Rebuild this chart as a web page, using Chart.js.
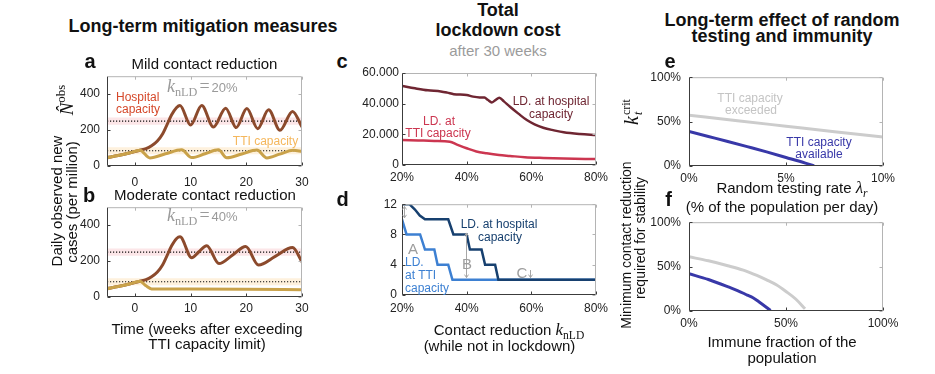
<!DOCTYPE html>
<html>
<head>
<meta charset="utf-8">
<script src="https://cdn.jsdelivr.net/npm/chart.js@4.4.0/dist/chart.umd.min.js"></script>
<style>
  body { margin: 0; background: #fff; }
  #fig { position: relative; width: 935px; height: 374px; overflow: hidden;
         font-family: 'Liberation Sans', Arial, sans-serif; color: #111; }
  #fig canvas { position: absolute; }
  .t { position: absolute; white-space: nowrap; line-height: 1; transform: translate(-50%, -50%); }
  .m { font-family: 'Liberation Serif', 'DejaVu Serif', serif; }
  .m sub { font-size: 0.68em; vertical-align: -0.35em; line-height: 0; }
  .m sup { font-size: 0.68em; vertical-align: 0.55em; line-height: 0; }
</style>
</head>
<body>
<div id="fig"></div>
<script>
// ---- a / b : daily observed new cases per million, weeks after exceeding TTI capacity
const hospitalCapacity = 250;
const ttiCapacity = 85;
const capacityBand = 20;
const timeRange = [-5, 30];
const timeTicks = [0, 10, 20, 30];
const casesTicks = [0, 200, 400];

const mildHospWeeks = [-5, -3, -1, 0.9, 2, 3, 4, 5, 5.7, 6.6, 7.5, 8.1, 10.0, 12.0, 14.1, 16.3, 18.2, 20.1, 22.05, 24.0, 26.05, 28.3, 30];
const mildHospCases = [46, 58, 72, 88, 97, 113, 138, 180, 225, 285, 326, 337, 228, 337, 217, 322, 214, 320, 208, 313, 199, 304, 217];
const mildTtiWeeks = [-5, -3, -1, 0.9, 2.7, 5.5, 8.4, 10.2, 12.6, 15.0, 16.5, 19.2, 21.9, 23.7, 26.0, 28.4, 30];
const mildTtiCases = [46, 58, 72, 88, 45, 68, 90, 47, 68, 90, 46, 67, 89, 45, 66, 88, 80];

const modHospWeeks = [-5, -3, -1, 0.9, 2, 3, 4, 5, 5.7, 6.6, 7.5, 8.1, 10.2, 11.5, 12.9, 15.1, 17.5, 19.9, 22.2, 25.2, 28.3, 30];
const modHospCases = [46, 58, 72, 88, 97, 113, 138, 180, 225, 285, 326, 335, 218, 252, 286, 186, 233, 281, 178, 226, 275, 196];
const modTtiWeeks = [-5, -3, -1, 0.9, 2, 3, 5, 10, 20, 30];
const modTtiCases = [46, 58, 72, 88, 62, 45, 44, 44, 43, 41];

// ---- c / d : lockdown cost vs contact reduction (%)
const reductionTicks = [20, 40, 60, 80];
const totalCasesTicks = [0, 20000, 40000, 60000];
const totalCasesLabels = ['0', '20.000', '40.000', '60.000'];
const durationTicks = [0, 4, 8, 12];

const costHospReduction = [20, 24, 28, 32, 34, 36, 40, 42, 44, 45.5, 46.5, 47.8, 49, 50.1, 51.5, 53.4, 56, 58.6, 61, 63.7, 67, 70, 75, 80];
const costHosp = [51500, 50000, 48700, 48000, 47200, 46200, 45600, 44600, 44100, 44000, 42500, 40800, 42500, 43900, 41500, 38000, 33500, 29300, 26500, 24300, 22600, 21300, 20200, 19600];
const costTtiReduction = [20, 25, 30, 34.8, 37, 40, 43, 46.2, 50, 53.4, 58, 63.7, 70, 80];
const costTti = [16300, 16000, 15700, 15200, 13300, 10900, 8800, 7600, 6500, 5900, 5100, 4600, 4200, 3900];

const durHospReduction = [20, 22.3, 24, 25.5, 27.1, 34.3, 35.9, 40, 41, 44.6, 45.7, 48.8, 49.8, 80];
const durHosp = [12, 12, 11.3, 10.5, 10, 10, 8, 8, 6, 6, 4, 4, 2, 2];
const durTtiReduction = [20, 21.4, 25.6, 27.1, 30, 31, 34.3, 35.6, 80];
const durTti = [10, 8, 8, 6, 6, 4, 4, 2, 2];
// A / B / C markers: [x, from, to, double headed]
const durArrows = [[20.5, 11.7, 10.2, true], [39.8, 8.2, 2.3, true], [59.6, 3.3, 2.3, false]];

// ---- e / f : minimum contact reduction k_t^crit (%)
const percentTicks = [0, 50, 100];
const percentLabels = ['0%', '50%', '100%'];
const testRateTicks = [0, 5, 10];
const testRateLabels = ['0%', '5%', '10%'];

const testRateExceeded = [0, 2.5, 5, 7.5, 10];
const kCritRateExceeded = [57.3, 51, 44.8, 38.6, 32.6];
const testRateAvailable = [0, 1, 2, 3, 4, 5, 6, 6.45];
const kCritRateAvailable = [39, 33.3, 27.6, 21.8, 15.9, 9.6, 3.2, 0];

const immuneExceeded = [0, 10, 20, 28, 35, 40, 45, 50, 55, 59.8];
const kCritImmuneExceeded = [61, 56.5, 51, 46, 40, 35, 29.5, 22, 13.5, 2.5];
const immuneAvailable = [0, 10, 21, 25, 30, 33, 36, 40, 42];
const kCritImmuneAvailable = [42, 35.5, 26.5, 23, 18, 15, 10.5, 4, 0.5];

// colours
const BROWN = '#8c4a2c', OLIVE = '#c9a24a', HOSP_RED = '#d5482a', TTI_ORANGE = '#f5b75c';
const MAROON = '#6f2632', ROSE = '#cc3650', NAVY = '#17406f', SKY = '#3d80d2';
const GREY = '#cccccc', INDIGO = '#3838a8';

Chart.defaults.font.family = "'Liberation Sans', Arial, sans-serif";
const fig = document.getElementById('fig');
const PAD = { l: 50, t: 12, r: 24, b: 30 };

const framePlugin = {
    id: 'frame',
    afterDatasetsDraw(chart, args, opts) {
        const { ctx, chartArea: a, scales: { x, y } } = chart;
        const L = a.left + 0.5, R = a.right - 0.5, T = a.top + 0.5, B = a.bottom - 0.5;
        const xs = x.ticks.map(t => Math.round(x.getPixelForValue(t.value)) + 0.5);
        const ys = y.ticks.map(t => Math.round(y.getPixelForValue(t.value)) + 0.5);
        ctx.save();
        ctx.lineWidth = 1;
        // top / right in light grey
        ctx.strokeStyle = '#b4b4b4';
        ctx.beginPath();
        ctx.moveTo(L, T); ctx.lineTo(R, T); ctx.lineTo(R, B);
        xs.forEach(px => { ctx.moveTo(px, T); ctx.lineTo(px, T + 3); });
        ys.forEach(py => { ctx.moveTo(R, py); ctx.lineTo(R - 3, py); });
        ctx.stroke();
        // left / bottom darker
        ctx.strokeStyle = '#3c3c3c';
        ctx.beginPath();
        ctx.moveTo(L, T); ctx.lineTo(L, B); ctx.lineTo(R, B);
        xs.forEach(px => { ctx.moveTo(px, B); ctx.lineTo(px, B - 3); });
        ys.forEach(py => { ctx.moveTo(L, py); ctx.lineTo(L + 3, py); });
        ctx.stroke();

        // annotation arrows
        ctx.strokeStyle = '#a6a6a6';
        (opts.arrows || []).forEach(([ax, from, to, both]) => {
            const px = Math.round(x.getPixelForValue(ax)) + 0.5;
            const p0 = y.getPixelForValue(from), p1 = y.getPixelForValue(to);
            ctx.beginPath();
            ctx.moveTo(px, p0); ctx.lineTo(px, p1);
            ctx.moveTo(px - 2, p1 - 3); ctx.lineTo(px, p1); ctx.lineTo(px + 2, p1 - 3);
            if (both) { ctx.moveTo(px - 2, p0 + 3); ctx.lineTo(px, p0); ctx.lineTo(px + 2, p0 + 3); }
            ctx.stroke();
        });
        ctx.restore();
    }
};

function axis(a, dir) {
    return {
        type: 'linear', min: a.min, max: a.max,
        grid: { display: false, drawTicks: false },
        border: { display: false },
        afterBuildTicks: s => { s.ticks = a.ticks.map(v => ({ value: v })); },
        afterFit: s => { if (dir === 'x') s.height = PAD.b; else s.width = PAD.l; },
        ticks: {
            autoSkip: false, maxRotation: 0, padding: a.pad, color: '#222', font: { size: 12 },
            callback: (v, i) => a.labels ? a.labels[i] : String(v)
        }
    };
}

function line(xs, ys, color, width, extra) {
    return Object.assign({
        data: xs.map((x, i) => ({ x, y: ys[i] })),
        borderColor: color, borderWidth: width, pointRadius: 0, fill: false,
        cubicInterpolationMode: 'monotone'
    }, extra || {});
}

// box = plot area on the page: [left, top, right, bottom]
function makePanel(box, datasets, xAxis, yAxis, arrows) {
    const [L, T, R, B] = box;
    const cv = document.createElement('canvas');
    cv.width = R - L + PAD.l + PAD.r;
    cv.height = B - T + PAD.t + PAD.b;
    cv.style.left = (L - PAD.l) + 'px';
    cv.style.top = (T - PAD.t) + 'px';
    fig.appendChild(cv);
    return new Chart(cv, {
        type: 'line',
        data: { datasets },
        options: {
            responsive: false, animation: false, devicePixelRatio: 1,
            layout: { padding: { left: 0, top: PAD.t, right: PAD.r, bottom: 0 } },
            plugins: { legend: { display: false }, tooltip: { enabled: false }, frame: { arrows: arrows || [] } },
            scales: { x: axis(xAxis, 'x'), y: axis(yAxis, 'y') }
        },
        plugins: [framePlugin]
    });
}

function capacityLayers(level, color, band) {
    const [t0, t1] = timeRange;
    return [
        line([t0, t1], [level, level], '#111', 1.1, { borderDash: [1.2, 1.8] }),
        line([t0, t1], [level + capacityBand, level + capacityBand], 'rgba(0,0,0,0)', 0,
            { backgroundColor: band, fill: { value: level - capacityBand } }),
        line([31.4], [level], color, 0, {
            showLine: false, pointStyle: 'triangle', pointRotation: -90, pointRadius: 6,
            pointBackgroundColor: color, pointBorderWidth: 0, clip: false
        })
    ];
}

function casesPanel(box, tWeeks, tCases, hWeeks, hCases, xPad) {
    makePanel(box, [
        line(tWeeks, tCases, OLIVE, 3),
        line(hWeeks, hCases, BROWN, 3),
        ...capacityLayers(hospitalCapacity, '#d83e1e', 'rgba(240,140,150,0.22)'),
        ...capacityLayers(ttiCapacity, TTI_ORANGE, 'rgba(250,200,120,0.25)')
    ],
    { min: timeRange[0], max: timeRange[1], ticks: timeTicks, pad: xPad },
    { min: 0, max: 500, ticks: casesTicks, pad: 7 });
}

casesPanel([107, 74, 302, 166], mildTtiWeeks, mildTtiCases, mildHospWeeks, mildHospCases, 9);
casesPanel([107, 205, 302, 297], modTtiWeeks, modTtiCases, modHospWeeks, modHospCases, 4);

makePanel([402, 73, 596, 165], [
    line(costHospReduction, costHosp, MAROON, 2.5),
    line(costTtiReduction, costTti, ROSE, 2.5)
],
{ min: 20, max: 80, ticks: reductionTicks, labels: reductionTicks.map(v => v + '%'), pad: 5 },
{ min: 0, max: 60000, ticks: totalCasesTicks, labels: totalCasesLabels, pad: 3 });

makePanel([402, 204, 596, 295], [
    line(durHospReduction, durHosp, NAVY, 2.5, { cubicInterpolationMode: 'default', tension: 0 }),
    line(durTtiReduction, durTti, SKY, 2.5, { cubicInterpolationMode: 'default', tension: 0 })
],
{ min: 20, max: 80, ticks: reductionTicks, labels: reductionTicks.map(v => v + '%'), pad: 6 },
{ min: 0, max: 12, ticks: durationTicks, pad: 5 }, durArrows);

makePanel([689, 74, 883, 166], [
    line(testRateAvailable, kCritRateAvailable, INDIGO, 3),
    line(testRateExceeded, kCritRateExceeded, GREY, 3)
],
{ min: 0, max: 10, ticks: testRateTicks, labels: testRateLabels, pad: 5 },
{ min: 0, max: 100, ticks: percentTicks, labels: percentLabels, pad: 8 });

makePanel([689, 219, 883, 311], [
    line(immuneAvailable, kCritImmuneAvailable, INDIGO, 3),
    line(immuneExceeded, kCritImmuneExceeded, GREY, 3)
],
{ min: 0, max: 100, ticks: percentTicks, labels: percentLabels, pad: 5 },
{ min: 0, max: 100, ticks: percentTicks, labels: percentLabels, pad: 8 });

// ---- text
const kNLD = p => `<span class="m" style="font-size:18px"><i>k</i><sub>nLD</sub>` +
    `<span style="margin:0 2px">=</span></span><span style="font-size:13px">${p}</span>`;
const B18 = 'font-weight:bold;font-size:18px;';
const ROT = 'transform:translate(-50%,-50%) rotate(-90deg);';
const LEFT = 'transform:translate(0,-50%);';

const texts = [
    [203, 26, 'Long-term mitigation measures', B18],
    [498, 10, 'Total', B18],
    [498, 29.5, 'lockdown cost', B18],
    [498, 50, 'after 30 weeks', 'font-size:15px;color:#9b9b9b;'],
    [782, 19.5, 'Long-term effect of random', B18],
    [782, 36, 'testing and immunity', B18],

    [90, 61, 'a', 'font-weight:bold;font-size:20px;'],
    [89, 195, 'b', 'font-weight:bold;font-size:20px;'],
    [342, 61, 'c', 'font-weight:bold;font-size:20px;'],
    [342.5, 199, 'd', 'font-weight:bold;font-size:20px;'],
    [670, 61, 'e', 'font-weight:bold;font-size:20px;'],
    [668.5, 198.5, 'f', 'font-weight:bold;font-size:20px;'],

    [204.5, 62.5, 'Mild contact reduction', 'font-size:15px;'],
    [205, 194, 'Moderate contact reduction', 'font-size:15px;'],

    [116, 97, 'Hospital', 'font-size:12px;color:' + HOSP_RED + ';' + LEFT],
    [116, 108.5, 'capacity', 'font-size:12px;color:' + HOSP_RED + ';' + LEFT],
    [265.5, 140.5, 'TTI capacity', 'font-size:12px;color:' + TTI_ORANGE + ';'],
    [167, 86, kNLD('20%'), 'color:#9a9a9a;' + LEFT],
    [167, 215, kNLD('40%'), 'color:#9a9a9a;' + LEFT],

    [551, 101, 'LD. at hospital', 'font-size:12px;color:' + MAROON + ';'],
    [551, 114, 'capacity', 'font-size:12px;color:' + MAROON + ';'],
    [439, 121, 'LD. at', 'font-size:12px;color:' + ROSE + ';'],
    [438, 133, 'TTI capacity', 'font-size:12px;color:' + ROSE + ';'],

    [499, 224, 'LD. at hospital', 'font-size:12px;color:' + NAVY + ';'],
    [500, 237, 'capacity', 'font-size:12px;color:' + NAVY + ';'],
    [405, 262, 'LD.', 'font-size:12px;color:' + SKY + ';' + LEFT],
    [405, 275, 'at TTI', 'font-size:12px;color:' + SKY + ';' + LEFT],
    [405, 288, 'capacity', 'font-size:12px;color:' + SKY + ';' + LEFT],
    [413, 248, 'A', 'font-size:15px;color:#9d9d9d;'],
    [467, 262.5, 'B', 'font-size:15px;color:#9d9d9d;'],
    [522, 271.5, 'C', 'font-size:15px;color:#9d9d9d;'],

    [750, 98, 'TTI capacity', 'font-size:12px;color:#c4c4c4;'],
    [751, 110, 'exceeded', 'font-size:12px;color:#c4c4c4;'],
    [819, 142, 'TTI capacity', 'font-size:12px;color:' + INDIGO + ';'],
    [819, 154, 'available', 'font-size:12px;color:' + INDIGO + ';'],

    [56, 201, 'Daily observed new', 'font-size:15px;' + ROT],
    [71, 202, 'cases (per million)', 'font-size:15px;' + ROT],
    [66, 100, '<span class="m" style="font-size:19px"><i>N&#770;</i><sup>obs</sup></span>', ROT],
    [207, 327.5, 'Time (weeks after exceeding', 'font-size:15px;'],
    [207, 342.5, 'TTI capacity limit)', 'font-size:15px;'],
    [509, 329, 'Contact reduction ' + '<span class="m" style="font-size:17px"><i>k</i><sub>nLD</sub></span>', 'font-size:15px;'],
    [499.5, 344.5, '(while not in lockdown)', 'font-size:15px;'],
    [792, 186.5, 'Random testing rate ' + '<span class="m" style="font-size:17px"><i>&lambda;</i><sub><i>r</i></sub></span>', 'font-size:15px;'],
    [782, 206, '(% of the population per day)', 'font-size:15px;'],
    [782, 341, 'Immune fraction of the', 'font-size:15px;'],
    [782, 356.5, 'population', 'font-size:15px;'],
    [626, 245, 'Minimum contact reduction', 'font-size:14px;' + ROT],
    [640, 238, 'required for stability', 'font-size:14px;' + ROT],
    [632, 112, '<span class="m" style="font-size:20px"><i>k</i>' +
        '<span style="display:inline-flex;flex-direction:column;font-size:12px;line-height:1;vertical-align:8px;margin-left:1px">' +
        '<span>crit</span><i>t</i></span></span>', ROT]
];

texts.forEach(([x, y, html, css]) => {
    const d = document.createElement('div');
    d.className = 't';
    d.innerHTML = html;
    d.style.cssText = `left:${x}px;top:${y}px;` + css;
    fig.appendChild(d);
});
</script>
</body>
</html>
